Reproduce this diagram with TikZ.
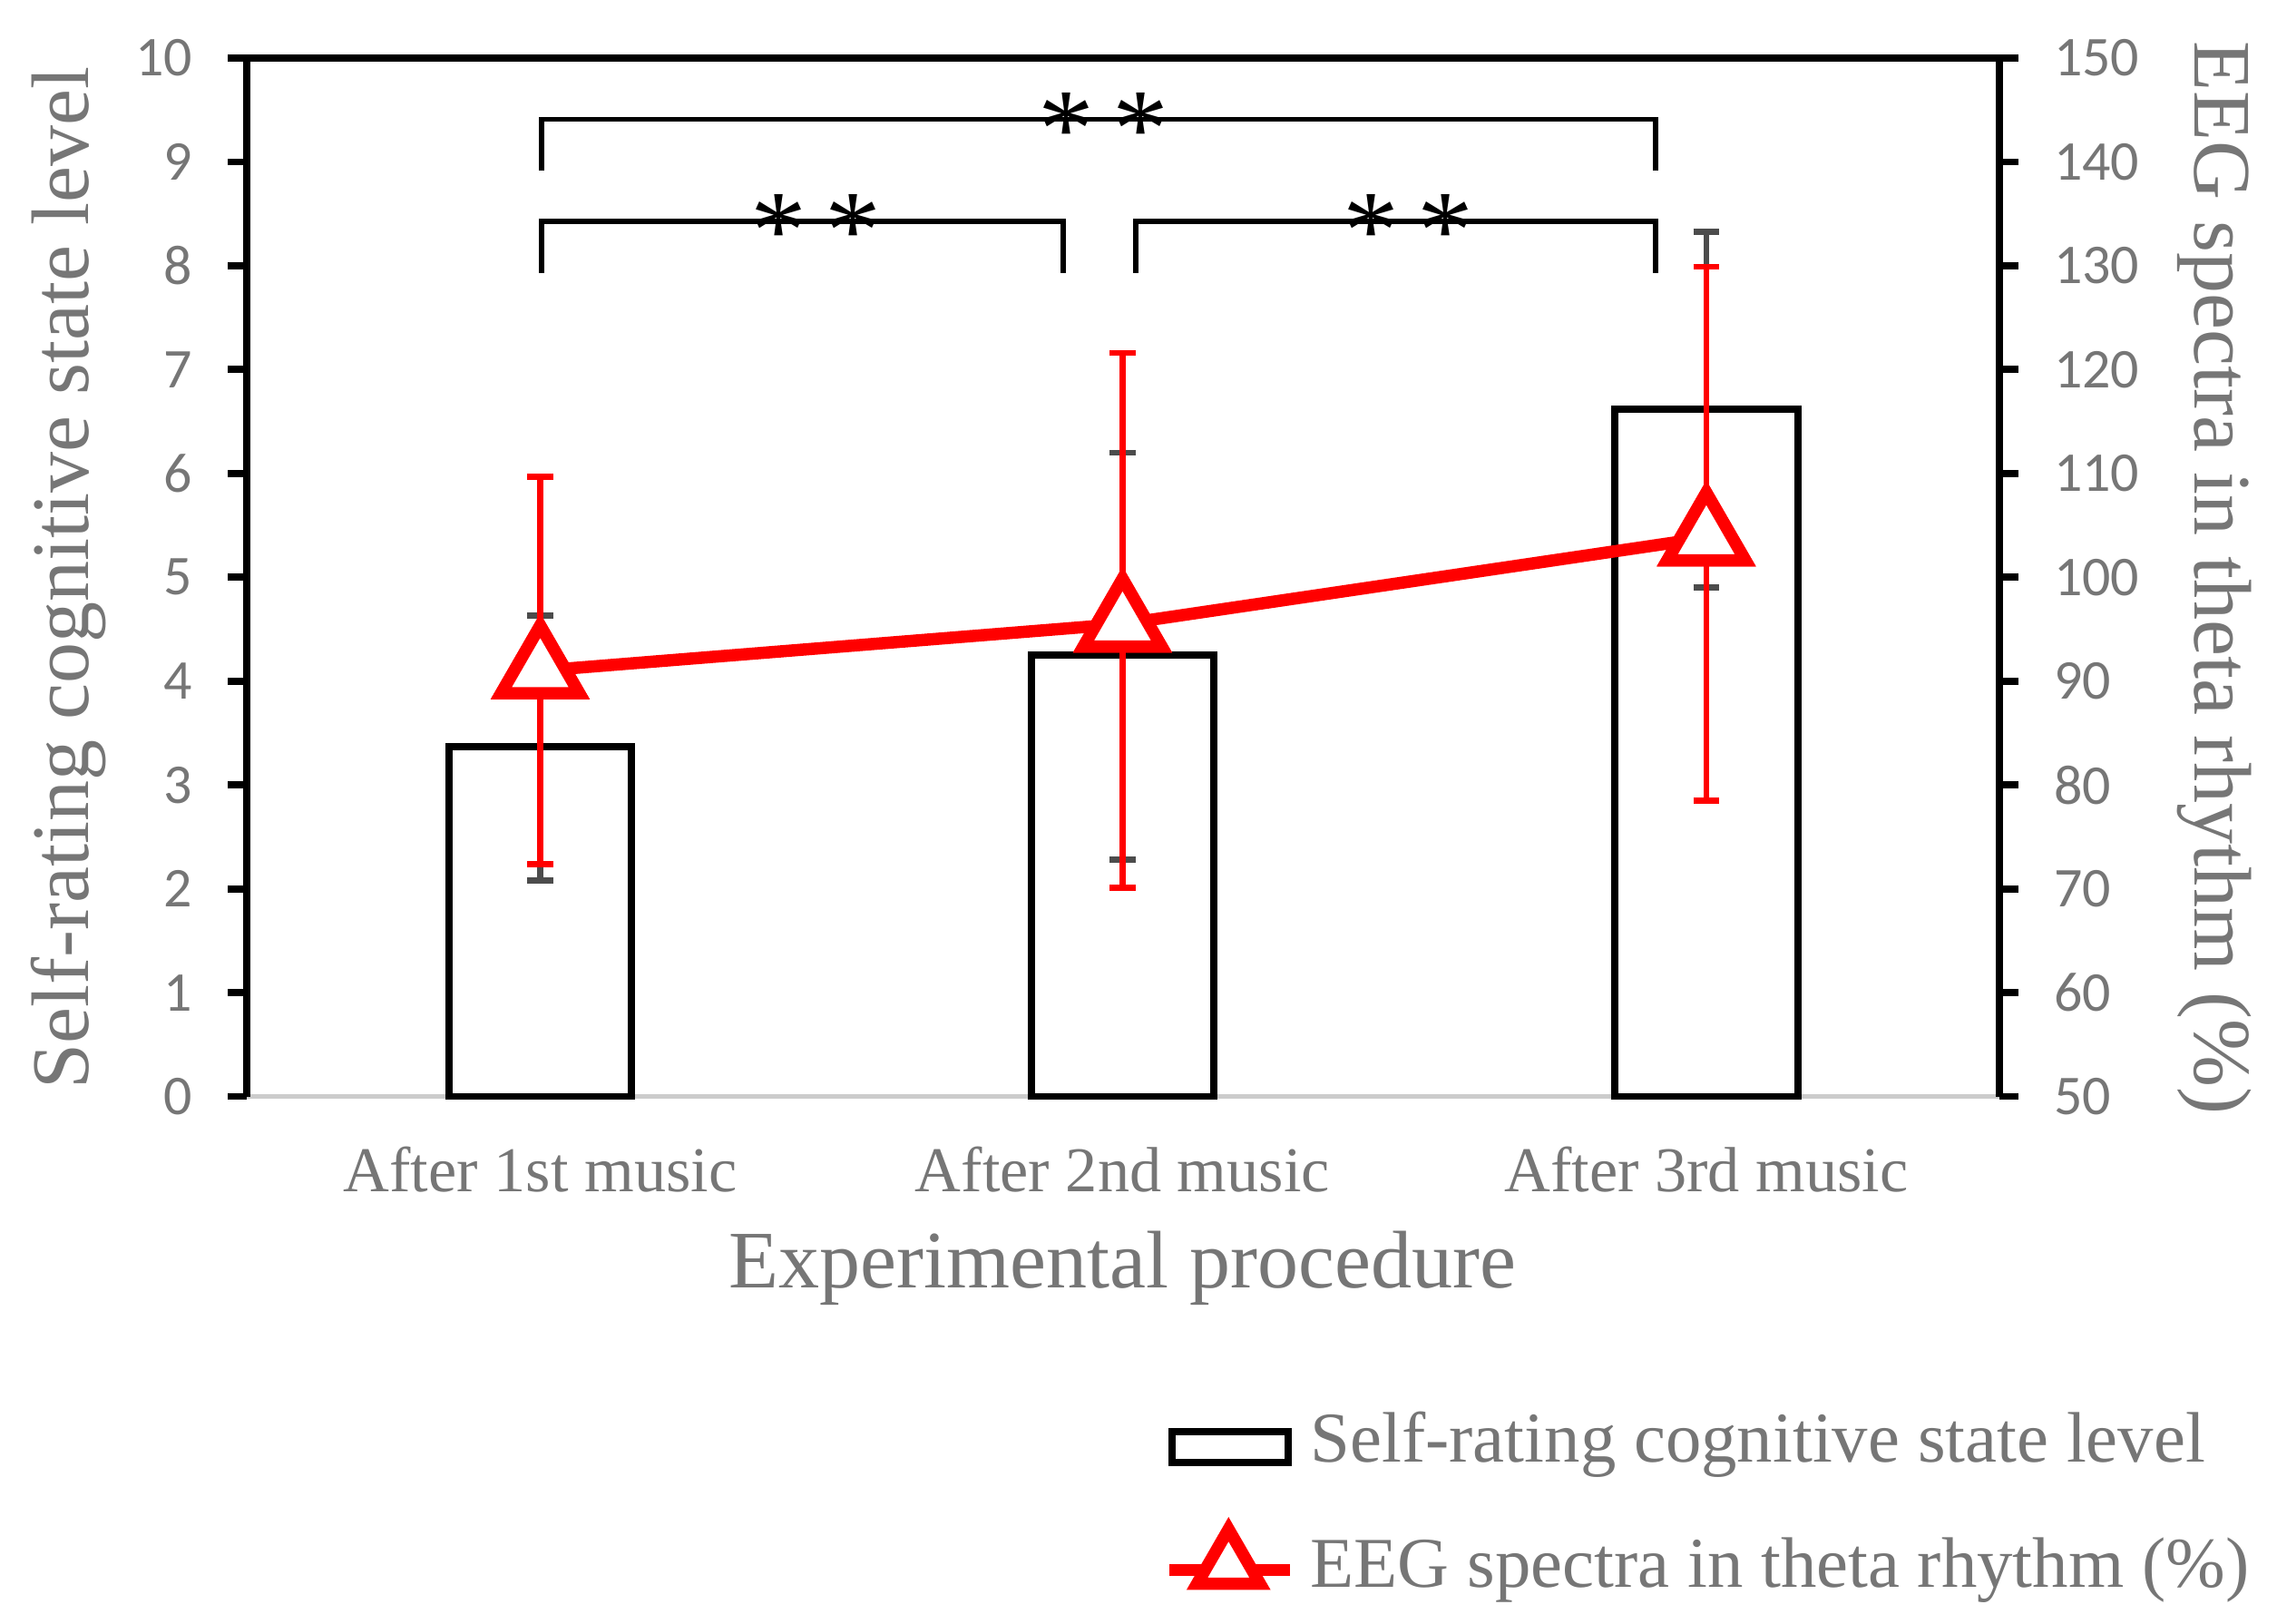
\documentclass[tikz,border=0pt]{standalone}
\usepackage{fontspec}
\setmainfont{Liberation Serif}
\newfontfamily\ticks{Carlito}
\usetikzlibrary{shapes.geometric}
\definecolor{txtgray}{RGB}{118,118,118}
\definecolor{eegred}{RGB}{255,0,0}
\tikzset{
  tick label/.style={font=\ticks\fontsize{11}{11}\selectfont,text=txtgray},
  cat label/.style={font=\fontsize{12.5}{12.5}\selectfont,text=txtgray},
  bar/.style={draw=black,line width=1.4pt,fill=white},
  bar err/.style={draw=black!70,line width=1.2pt},
  eeg err/.style={draw=eegred,line width=1.2pt},
  bracket/.style={draw=black,line width=1pt},
  marker/.style={regular polygon,regular polygon sides=3,draw=eegred,fill=white,line width=2.4pt,minimum size=0.62cm,inner sep=0pt}
}
\begin{document}
\begin{tikzpicture}
\useasboundingbox (0,0) rectangle (15.68,11.18);
\begin{scope}[shift={(0,3.63)},yscale=0.715]
  % axes
  \draw[black!20,line width=1pt] (1.70,0) -- (13.77,0);
  \draw[black,line width=1.4pt] (1.70,10) -- (13.77,10);
  \draw[black,line width=1.4pt] (1.70,0) -- (1.70,10);
  \draw[black,line width=1.4pt] (13.77,0) -- (13.77,10);
  \foreach \v in {0,...,10}{
    \draw[black,line width=1.4pt] (1.57,\v) -- (1.70,\v);
    \draw[black,line width=1.4pt] (13.77,\v) -- (13.90,\v);
    \node[tick label,anchor=east] (l\v) at (1.45,\v) {\v};
    \pgfmathtruncatemacro{\r}{50+10*\v}
    \node[tick label,anchor=west] (r\v) at (14.02,\v) {\r};
  }
  % bars
  \foreach \x/\h in {3.72/3.37,7.73/4.25,11.75/6.62}
    \draw[bar] (\x-0.63,0) rectangle (\x+0.63,\h);
  % bar errors
  \foreach \x/\lo/\hi in {3.72/2.08/4.63,7.73/2.28/6.2,11.75/4.9/8.33}{
    \draw[bar err] (\x,\lo) -- (\x,\hi);
    \draw[bar err] (\x-0.09,\lo) -- (\x+0.09,\lo);
    \draw[bar err] (\x-0.09,\hi) -- (\x+0.09,\hi);
  }
  % eeg errors
  \foreach \x/\lo/\hi in {3.72/2.24/5.97,7.73/2.01/7.16,11.75/2.85/7.99}{
    \draw[eeg err] (\x,\lo) -- (\x,\hi);
    \draw[eeg err] (\x-0.09,\lo) -- (\x+0.09,\lo);
    \draw[eeg err] (\x-0.09,\hi) -- (\x+0.09,\hi);
  }
  % eeg line
  \node[marker] (m1) at (3.72,4.1) {};
  \node[marker] (m2) at (7.73,4.55) {};
  \node[marker] (m3) at (11.75,5.38) {};
  \draw[eegred,line width=2.4pt] (m1.center) -- (m2.center) -- (m3.center);
  \node[marker] at (m1.center) {};
  \node[marker] at (m2.center) {};
  \node[marker] at (m3.center) {};
  % brackets
  \draw[bracket] (3.73,8.92) -- (3.73,9.41) -- (11.40,9.41) -- (11.40,8.92);
  \draw[bracket] (3.73,7.93) -- (3.73,8.43) -- (7.32,8.43) -- (7.32,7.93);
  \draw[bracket] (7.82,7.93) -- (7.82,8.43) -- (11.40,8.43) -- (11.40,7.93);
  \node[font=\fontsize{22}{22}\selectfont,inner sep=0pt] (s1) at (5.62,8.33) {*\,*};
  \node[font=\fontsize{22}{22}\selectfont,inner sep=0pt] (s2) at (7.60,9.31) {*\,*};
  \node[font=\fontsize{22}{22}\selectfont,inner sep=0pt] (s3) at (9.70,8.33) {*\,*};
\end{scope}
% category labels
\node[cat label] (c1) at (3.72,3.13) {After 1st music};
\node[cat label] (c2) at (7.73,3.13) {After 2nd music};
\node[cat label] (c3) at (11.75,3.13) {After 3rd music};
\node[cat label,font=\fontsize{16}{16}\selectfont] (xt) at (7.73,2.45) {Experimental procedure};
\node[cat label,font=\fontsize{16}{16}\selectfont,rotate=90] (yl) at (0.47,7.20) {Self-rating cognitive state level};
\node[cat label,font=\fontsize{16}{16}\selectfont,rotate=-90] (yr) at (15.25,7.20) {EEG spectra in theta rhythm (\%)};
% legend
\draw[bar] (8.07,1.11) rectangle (8.87,1.32);
\node[cat label,anchor=west,font=\fontsize{14}{14}\selectfont] (lg1) at (8.90,1.23) {Self-rating cognitive state level};
\draw[eegred,line width=2.4pt] (8.05,0.37) -- (8.88,0.37);
\node[marker,minimum size=0.5cm] (lm) at (8.46,0.40) {};
\node[cat label,anchor=west,font=\fontsize{14}{14}\selectfont] (lg2) at (8.90,0.37) {EEG spectra in theta rhythm (\%)};
\end{tikzpicture}
\end{document}
